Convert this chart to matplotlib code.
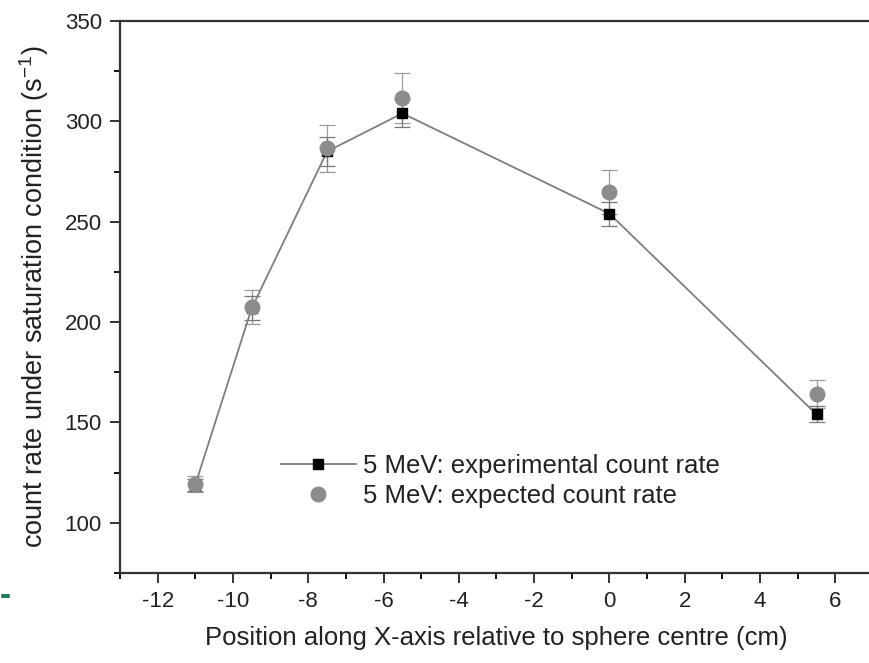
import matplotlib.pyplot as plt
from matplotlib.ticker import MultipleLocator

plt.rcParams['font.family'] = ['Liberation Sans', 'DejaVu Sans']
plt.rcParams['axes.unicode_minus'] = False
plt.rcParams['mathtext.default'] = 'regular'

# positions along the X axis (cm)
position = [-11, -9.5, -7.5, -5.5, 0, 5.5]

# measured count rate and its uncertainty
exp_rate = [119, 207, 285, 304, 254, 154]
exp_err = [3, 6, 7, 7, 6, 4]

# calculated count rate and its uncertainty
calc_rate = [119.5, 207.5, 286.5, 311.5, 265, 164]
calc_err = [4, 8.5, 11.5, 12.5, 11, 7]

W, H = 870, 663
fig = plt.figure(figsize=(W / 100, H / 100), dpi=100)
left, right, top, bottom = 120, 873, 21, 573
ax = fig.add_axes([left / W, (H - bottom) / H, (right - left) / W, (bottom - top) / H])

grey = '#7e7e7e'

ax.errorbar(position, calc_rate, yerr=calc_err, fmt='none', ecolor='#9a9a9a',
            elinewidth=0.9, capsize=6, capthick=0.9, zorder=2)
ax.errorbar(position, exp_rate, yerr=exp_err, fmt='none', ecolor='#777777',
            elinewidth=0.9, capsize=6, capthick=0.9, zorder=2)
ax.plot(position, exp_rate, color=grey, lw=1.3, marker='s', ms=6.5,
        mfc='black', mec='black', zorder=3,
        label='5 MeV: experimental count rate')
ax.plot(position, calc_rate, ls='none', marker='o', ms=10.5,
        mfc='#8c8c8c', mec='#8c8c8c', zorder=4,
        label='5 MeV: expected count rate')

ax.set_xlim(-13, 7)
ax.set_ylim(75, 350)
ax.xaxis.set_major_locator(MultipleLocator(2))
ax.xaxis.set_minor_locator(MultipleLocator(1))
ax.yaxis.set_major_locator(MultipleLocator(50))
ax.yaxis.set_minor_locator(MultipleLocator(25))
ax.tick_params(which='major', direction='out', length=7, width=1.3,
               labelsize=16, colors='#222222', pad=6)
ax.tick_params(which='minor', direction='out', length=4, width=1.3)
ax.tick_params(axis='y', which='both', right=False)
ax.tick_params(axis='x', which='both', top=False)
for s in ax.spines.values():
    s.set_linewidth(1.6)
    s.set_color('#333333')

ax.set_xlabel('Position along X-axis relative to sphere centre (cm)',
              fontsize=18.5, color='#222222', labelpad=10)
ax.set_ylabel('count rate under saturation condition (s$^{-1}$)',
              fontsize=19.5, color='#222222', labelpad=10)

leg = ax.legend(loc='upper left', bbox_to_anchor=(0.197, 0.238), frameon=False,
                fontsize=18.5, handlelength=2.9, handletextpad=0.3,
                labelspacing=0.2, borderpad=0)
for t in leg.get_texts():
    t.set_color('#222222')

# small teal mark at the lower left edge
fig.text(0.0, (H - 597) / H, '-', color='#1d7a5c', fontsize=24,
         fontweight='bold', va='center')

fig.savefig('out.png', dpi=100, facecolor='white')
